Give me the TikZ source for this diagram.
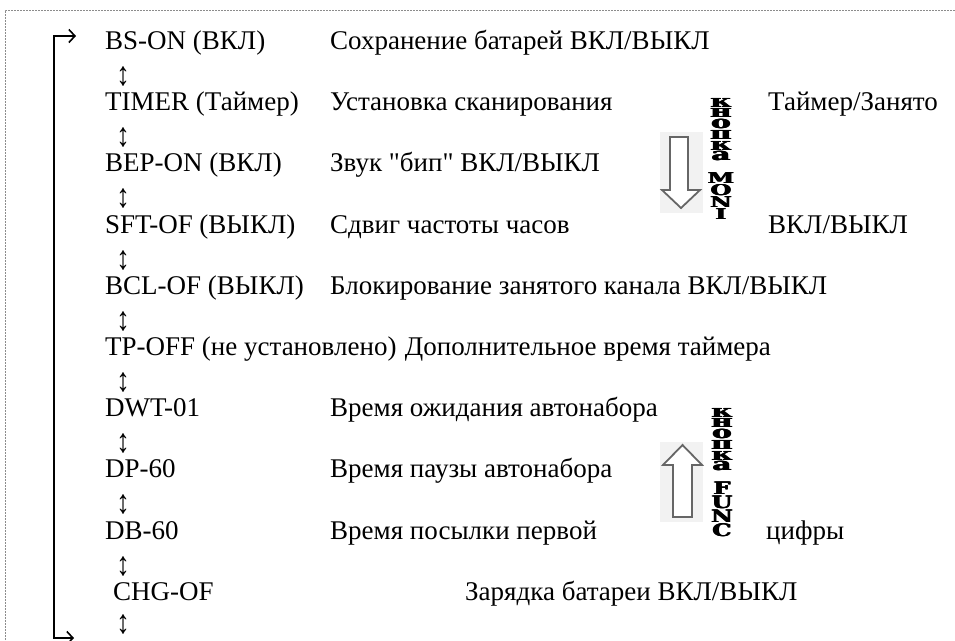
\documentclass[tikz,border=0pt]{standalone}
\usepackage{fontspec}
\newfontfamily\rusfont{Liberation Serif}
\newfontfamily\heavyfont{DejaVu Serif}
\usetikzlibrary{arrows.meta}
\begin{document}
\begin{tikzpicture}[x=1pt,y=-1pt,
  txt/.style={anchor=base west,inner sep=0pt,font=\rusfont\fontsize{27}{31}\selectfont},
  updown/.style={anchor=center,inner sep=0pt,font=\rusfont\fontsize{27}{31}\selectfont},
  lowstack/.style={anchor=north,inner sep=0pt,align=center,font=\heavyfont\bfseries\fontsize{20}{10.7}\selectfont},
  capstack/.style={anchor=north,inner sep=0pt,align=center,font=\heavyfont\bfseries\fontsize{20}{#1}\selectfont},
  blockarrow/.style={draw=black!60,line width=1.8pt,fill=white,line join=miter},
  bracket/.style={line width=1.6pt,{Straight Barb[length=6pt,width=13pt]}-{Straight Barb[length=6pt,width=13pt]}},
  shade/.style={fill=black!5,draw=none}
]
\newcommand\fkb[1]{\rlap{#1}\kern0.45pt\rlap{#1}\kern0.45pt#1}
\newcommand\lw[1]{\scalebox{1.45}[0.87]{\fkb{#1}}}
\newcommand\cpm[1]{\scalebox{1.2}[0.74]{\fkb{#1}}}
\newcommand\cpf[1]{\scalebox{1.2}[0.86]{\fkb{#1}}}
\useasboundingbox (0,0) rectangle (955,640);
\draw[black!45,line width=0.7pt,dash pattern=on 2pt off 1pt] (5,640) -- (5,10) -- (955,10);

% left column
\node[txt] (r1a) at (105,49) {BS-ON (ВКЛ)};
\node[txt] (r2a) at (105,110) {TIMER (Таймер)};
\node[txt] (r3a) at (105,171) {BEP-ON (ВКЛ)};
\node[txt] (r4a) at (105,233) {SFT-OF (ВЫКЛ)};
\node[txt] (r5a) at (105,294) {BCL-OF (ВЫКЛ)};
\node[txt] (r6a) at (105,355) {TP-OFF (не установлено)};
\node[txt] (r7a) at (105,416) {DWT-01};
\node[txt] (r8a) at (105,477) {DP-60};
\node[txt] (r9a) at (105,539) {DB-60};
\node[txt] (r10a) at (113,600) {CHG-OF};

% second column
\node[txt] (r1b) at (330,49) {Сохранение батарей ВКЛ/ВЫКЛ};
\node[txt] (r2b) at (330,110) {Установка сканирования};
\node[txt] (r3b) at (330,171) {Звук "бип" ВКЛ/ВЫКЛ};
\node[txt] (r4b) at (330,233) {Сдвиг частоты часов};
\node[txt] (r5b) at (330,294) {Блокирование занятого канала ВКЛ/ВЫКЛ};
\node[txt,anchor=base west] (r6b) at ([xshift=8pt]r6a.base east) {Дополнительное время таймера};
\node[txt] (r7b) at (330,416) {Время ожидания автонабора};
\node[txt] (r8b) at (330,477) {Время паузы автонабора};
\node[txt] (r9b) at (330,539) {Время посылки первой};
\node[txt] (r10b) at (465,600) {Зарядка батареи ВКЛ/ВЫКЛ};

% right column
\node[txt] (r2c) at (768,110) {Таймер/Занято};
\node[txt] (r4c) at (768,233) {ВКЛ/ВЫКЛ};
\node[txt] (r9c) at (766,539) {цифры};

% up-down glyphs
\foreach \k/\yy in {1/77,2/138,3/199,4/261,5/322,6/383,7/444,8/505,9/567,10/625}
  \node[updown] (ud\k) at (123,\yy) {\scalebox{1.0}[1.25]{↕}};

% bracket
\coordinate (ttip) at (76,36);
\coordinate (btop) at (54,36);
\coordinate (bbot) at (54,638);
\coordinate (btip) at (74,638);
\draw[bracket] (btip) -- (bbot) -- (btop) -- (ttip);

% block arrows
\fill[shade] (660,132) rectangle (703,213);
\draw[blockarrow] (670,137) -- (688,137) -- (688,190) -- (700,190) -- (681,208) -- (662,190) -- (670,190) -- cycle;
\fill[shade] (660,442) rectangle (703,522);
\draw[blockarrow] (673,517) -- (692,517) -- (692,465) -- (702,465) -- (682.5,445) -- (663,465) -- (673,465) -- cycle;

% vertical texts
\node[lowstack] (mlow) at (721,98) {\lw{к}\\\lw{н}\\\lw{о}\\\lw{п}\\\lw{к}\\\lw{а}};
\node[capstack=11.75] (mcap) at (721,173) {\cpm{M}\\\cpm{O}\\\cpm{N}\\\cpm{I}};
\node[lowstack] (flow) at (722,408) {\lw{к}\\\lw{н}\\\lw{о}\\\lw{п}\\\lw{к}\\\lw{а}};
\node[capstack=14] (fcap) at (722,482) {\cpf{F}\\\cpf{U}\\\cpf{N}\\\cpf{C}};
\end{tikzpicture}
\end{document}
